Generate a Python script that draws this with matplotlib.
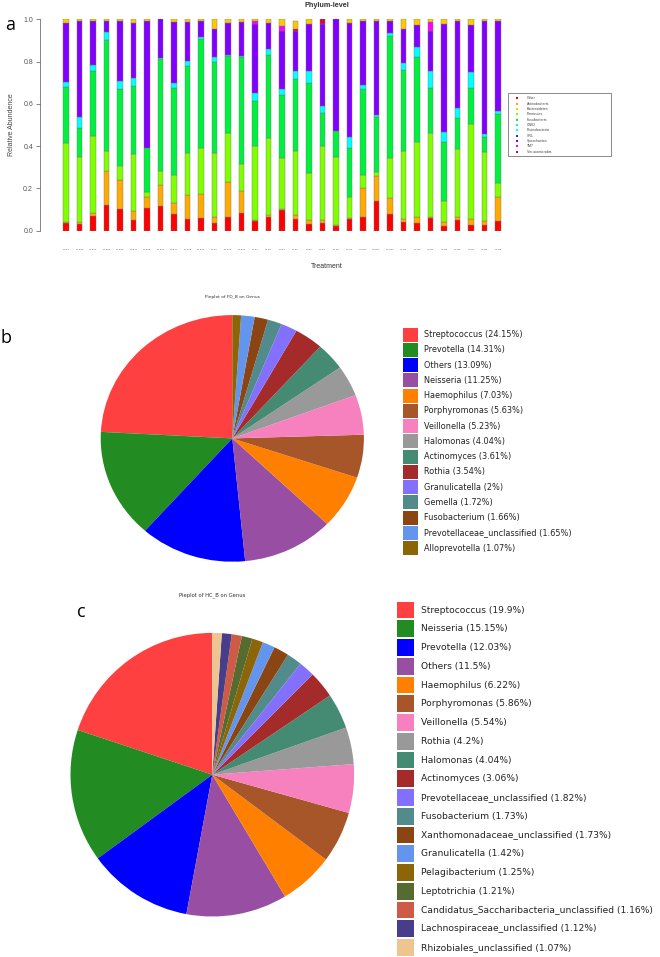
import matplotlib
matplotlib.use('Agg')
import matplotlib.pyplot as plt
from matplotlib.patches import Rectangle
import numpy as np

# ---------------- data ----------------
samples = ['FD-B1', 'FD-B10', 'FD-B11', 'FD-B12', 'FD-B13', 'FD-B14', 'FD-B15', 'FD-B16',
           'FD-B17', 'FD-B18', 'FD-B19', 'FD-B2', 'FD-B20', 'FD-B21', 'FD-B3', 'FD-B4',
           'FD-B5', 'FD-B6', 'FD-B7', 'FD-B8', 'FD-B9',
           'HC-B1', 'HC-B10', 'HC-B11', 'HC-B12', 'HC-B2', 'HC-B3', 'HC-B4', 'HC-B5',
           'HC-B6', 'HC-B7', 'HC-B8', 'HC-B9']

other = [.035, .032, .069, .121, .101, .050, .107, .117, .077, .057, .060, .038, .066, .085, .046, .063, .098,
         .057, .032, .038, .022, .054, .066, .139, .077, .041, .038, .058, .022, .050, .027, .028, .044]
actinobacteria = [.008, .011, .016, .160, .137, .043, .054, .099, .054, .110, .112, .028, .166, .104, .004, .010,
                  .006, .017, .018, .012, .003, .006, .136, .120, .076, .016, .028, .008, .021, .013, .027, .016, .117]
firmicutes = [.373, .304, .365, .098, .068, .271, .020, .065, .134, .202, .221, .300, .229, .128, .351, .367, .240,
              .305, .221, .352, .322, .098, .061, .019, .191, .318, .352, .398, .096, .323, .449, .330, .063]
fusobacteria = [.262, .139, .305, .523, .363, .321, .209, .531, .410, .410, .516, .432, .365, .503, .214, .391, .298,
                .337, .426, .156, .125, .233, .409, .261, .577, .385, .402, .210, .279, .147, .172, .071, .330]
proteobacteria = [.025, .053, .030, .038, .041, .039, .000, .005, .022, .025, .006, .025, .007, .006, .038, .027,
                  .027, .041, .060, .032, .000, .051, .019, .010, .013, .035, .051, .083, .047, .046, .076, .011, .011]
spirochaetes = [.281, .455, .209, .052, .282, .260, .600, .183, .290, .183, .079, .133, .151, .161, .325, .123, .274,
                .186, .221, .388, .528, .542, .300, .442, .057, .161, .104, .189, .513, .415, .224, .538, .429]
tm7 = [0, 0, 0, 0, 0, 0, 0, 0, 0, 0, 0, 0, 0, 0, .016, 0, .025,
       0, 0, 0, 0, 0, 0, 0, 0, 0, 0, .041, 0, 0, 0, 0, 0]
verrucomicrobia = [0, 0, 0, 0, 0, 0, 0, 0, 0, 0, 0, 0, 0, 0, 0, 0, 0,
                   .010, 0, .022, 0, 0, 0, 0, 0, 0, 0, 0, 0, 0, 0, 0, 0]
bacteroidetes = [.016, .006, .006, .008, .008, .016, .010, 0, .013, .013, .006, .044, .016, .013, .006, .019, .032,
                 .037, .022, 0, 0, .016, .009, .009, .009, .044, .025, .013, .022, .006, .025, .006, .006]

phyla_legend = ['Other', 'Actinobacteria', 'Bacteroidetes', 'Firmicutes', 'Fusobacteria', 'GN02',
                'Proteobacteria', 'SR1', 'Spirochaetes', 'TM7', 'Verrucomicrobia']
phyla_colors = {'Other': '#FF0000', 'Actinobacteria': '#FFAA00', 'Bacteroidetes': '#FFC800',
                'Firmicutes': '#80FF00', 'Fusobacteria': '#00F040', 'GN02': '#00FFBF',
                'Proteobacteria': '#00FFFF', 'SR1': '#0040FF', 'Spirochaetes': '#8000FF',
                'TM7': '#FF00FF', 'Verrucomicrobia': '#E00040'}
stack = [('Other', other), ('Actinobacteria', actinobacteria), ('Firmicutes', firmicutes),
         ('Fusobacteria', fusobacteria), ('Proteobacteria', proteobacteria), ('Spirochaetes', spirochaetes),
         ('TM7', tm7), ('Verrucomicrobia', verrucomicrobia), ('Bacteroidetes', bacteroidetes)]

fd_genus = ['Streptococcus', 'Prevotella', 'Others', 'Neisseria', 'Haemophilus', 'Porphyromonas',
            'Veillonella', 'Halomonas', 'Actinomyces', 'Rothia', 'Granulicatella', 'Gemella',
            'Fusobacterium', 'Prevotellaceae_unclassified', 'Alloprevotella']
fd_pct = [24.15, 14.31, 13.09, 11.25, 7.03, 5.63, 5.23, 4.04, 3.61, 3.54, 2, 1.72, 1.66, 1.65, 1.07]

hc_genus = ['Streptococcus', 'Neisseria', 'Prevotella', 'Others', 'Haemophilus', 'Porphyromonas',
            'Veillonella', 'Rothia', 'Halomonas', 'Actinomyces', 'Prevotellaceae_unclassified',
            'Fusobacterium', 'Xanthomonadaceae_unclassified', 'Granulicatella', 'Pelagibacterium',
            'Leptotrichia', 'Candidatus_Saccharibacteria_unclassified', 'Lachnospiraceae_unclassified',
            'Rhizobiales_unclassified']
hc_pct = [19.9, 15.15, 12.03, 11.5, 6.22, 5.86, 5.54, 4.2, 4.04, 3.06, 1.82, 1.73, 1.73, 1.42, 1.25,
          1.21, 1.16, 1.12, 1.07]

pie_palette = ['#FF4040', '#228B22', '#0000FF', '#984EA3', '#FF7F00', '#A65628', '#F781BF', '#999999',
               '#458B74', '#A52A2A', '#8470FF', '#528B8B', '#8B4513', '#6495ED', '#8B6508', '#556B2F',
               '#CD5B45', '#483D8B', '#EEC591']

# ---------------- layout helpers ----------------
W, H = 660, 957
fig = plt.figure(figsize=(6.6, 9.57), dpi=100)


def fx(x):
    return x / W


def fy(y):
    return 1 - y / H


def rect(l, t, r, b):
    return [fx(l), fy(b), fx(r) - fx(l), fy(t) - fy(b)]


# ---------------- panel a ----------------
ax = fig.add_axes(rect(40, 19.3, 505, 230.7))
x = np.arange(len(samples))
bottom = np.zeros(len(samples))
for name, vals in stack:
    vals = np.array(vals, dtype=float)
    ec = ['#777777' if v > 0 else 'none' for v in vals]
    ax.bar(x, vals, width=0.42, bottom=bottom, color=phyla_colors[name], edgecolor=ec, linewidth=0.3)
    bottom += vals
step = (498 - 66) / 32
ax.set_xlim(-(66 - 40) / step, 32 + (505 - 498) / step)
ax.set_ylim(0, 1)
for s in ['top', 'right', 'bottom']:
    ax.spines[s].set_visible(False)
ax.spines['left'].set_color('#555555')
ax.spines['left'].set_linewidth(0.5)
ax.set_yticks([0, 0.2, 0.4, 0.6, 0.8, 1.0])
ax.set_yticklabels(['0.0', '0.2', '0.4', '0.6', '0.8', '1.0'], family='Liberation Sans')
ax.tick_params(axis='y', length=3, width=0.5, pad=2, labelsize=5, colors='#555555')
ax.set_xticks(x)
ax.set_xticklabels(samples, fontsize=1.6, color='#555555')
ax.tick_params(axis='x', length=0, pad=13)

fig.text(fx(327), fy(5.5), 'Phylum-level', fontsize=5.2, weight='bold', ha='center', va='center',
         family='Liberation Sans', color='#333333')
fig.text(fx(327), fy(266), 'Treatment', fontsize=5, ha='center', va='center',
         family='Liberation Sans', color='#333333')
fig.text(fx(12), fy(125), 'Relative Abundence', fontsize=5, rotation=90, ha='center', va='center',
         family='Liberation Sans', color='#444444')

# legend a
fig.add_artist(Rectangle((fx(508), fy(156)), fx(611) - fx(508), (156 - 93) / H, transform=fig.transFigure,
                         facecolor='none', edgecolor='#777777', linewidth=0.6))
for i, name in enumerate(phyla_legend):
    yc = 98.3 + i * 5.33
    fig.add_artist(Rectangle((fx(515.7), fy(yc + 1)), 2 / W, 2 / H, transform=fig.transFigure,
                             facecolor=phyla_colors[name], edgecolor='none'))
    fig.text(fx(526.7), fy(yc), name, fontsize=2.5, ha='left', va='center', color='#444444',
             family='Liberation Sans')

# ---------------- panel b ----------------
cxb, cyb, rxb, ryb = 232.3, 438.4, 131.6, 123.3
axb = fig.add_axes(rect(cxb - rxb, cyb - ryb, cxb + rxb, cyb + ryb))
axb.pie(fd_pct, colors=pie_palette[:len(fd_pct)], startangle=90, counterclock=True, radius=1,
        wedgeprops=dict(linewidth=0))
axb.set_aspect('auto')
axb.set_xlim(-1, 1)
axb.set_ylim(-1, 1)
axb.axis('off')
fig.text(fx(232), fy(297), 'Pieplot of FD_B on Genus', fontsize=3.2, ha='center', va='center', color='#333333')

for i, (g, p) in enumerate(zip(fd_genus, fd_pct)):
    top = 327.7 + i * 15.24
    fig.add_artist(Rectangle((fx(403), fy(top + 14)), 15 / W, 14 / H, transform=fig.transFigure,
                             facecolor=pie_palette[i], edgecolor='none'))
    fig.text(fx(424), fy(top + 7), f'{g} ({p:g}%)', fontsize=5.9, ha='left', va='center', color='#222222')

# ---------------- panel c ----------------
cxc, cyc, rc = 212.3, 774.7, 141.8
axc = fig.add_axes(rect(cxc - rc, cyc - rc, cxc + rc, cyc + rc))
axc.pie(hc_pct, colors=pie_palette[:len(hc_pct)], startangle=90, counterclock=True, radius=1,
        wedgeprops=dict(linewidth=0))
axc.set_aspect('auto')
axc.set_xlim(-1, 1)
axc.set_ylim(-1, 1)
axc.axis('off')
fig.text(fx(212), fy(595), 'Pieplot of HC_B on Genus', fontsize=3.8, ha='center', va='center', color='#333333')

for i, (g, p) in enumerate(zip(hc_genus, hc_pct)):
    top = 601.7 + i * 18.75
    fig.add_artist(Rectangle((fx(397.3), fy(top + 16.7)), 16.7 / W, 16.7 / H, transform=fig.transFigure,
                             facecolor=pie_palette[i], edgecolor='none'))
    fig.text(fx(421), fy(top + 8.35), f'{g} ({p:g}%)', fontsize=6.6, ha='left', va='center', color='#222222')

# ---------------- panel letters ----------------
fig.text(fx(10), fy(25), 'a', fontsize=13, ha='center', va='center', family='Open Sans')
fig.text(fx(6), fy(338), 'b', fontsize=13, ha='center', va='center', family='Open Sans')
fig.text(fx(81), fy(612), 'c', fontsize=13, ha='center', va='center', family='Open Sans')

fig.savefig('out.png', dpi=100)
